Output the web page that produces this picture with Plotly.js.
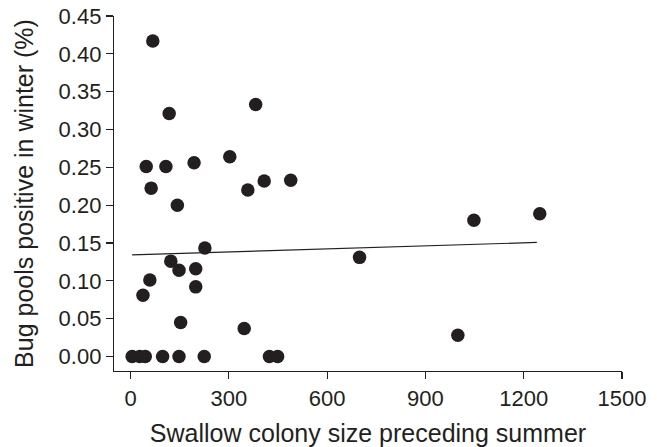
<!DOCTYPE html>
<html>
<head>
<meta charset="utf-8">
<script src="https://cdn.plot.ly/plotly-3.0.1.min.js"></script>
<style>html,body{margin:0;padding:0;background:#fff;}#chart{width:657px;height:447px;}</style>
</head>
<body>
<div id="chart"></div>
<script>
var colonySize = [68, 118, 382, 48, 108, 194, 303, 63, 358, 408, 489,
                  143, 227, 123, 148, 199, 199, 59, 38, 153, 347,
                  5, 28, 45, 98, 148, 225, 424, 449,
                  699, 1048, 1249, 999];
var bugPositive = [0.417, 0.321, 0.333, 0.251, 0.251, 0.256, 0.264, 0.2225, 0.220, 0.232, 0.233,
                   0.200, 0.1435, 0.126, 0.114, 0.116, 0.092, 0.101, 0.081, 0.045, 0.037,
                   0, 0, 0, 0, 0, 0, 0, 0,
                   0.131, 0.180, 0.1885, 0.028];
var trendX = [5, 1240];
var trendY = [0.1343, 0.1507];
var xTicks = [0, 300, 600, 900, 1200, 1500];
var yTicks = [0, 0.05, 0.10, 0.15, 0.20, 0.25, 0.30, 0.35, 0.40, 0.45];
var yTickText = yTicks.map(function(v){return v.toFixed(2);});

var ink = '#231f20';
var font = 'Liberation Sans, Arial, Helvetica, sans-serif';

var traces = [
  {x: colonySize, y: bugPositive, type: 'scatter', mode: 'markers',
   marker: {size: 13.5, color: ink}, hoverinfo: 'x+y'},
  {x: trendX, y: trendY, type: 'scatter', mode: 'lines',
   line: {color: ink, width: 1.2}, hoverinfo: 'skip'}
];

var layout = {
  width: 657, height: 447,
  margin: {l: 114, r: 35, t: 15.7, b: 76.3},
  paper_bgcolor: '#fff', plot_bgcolor: '#fff',
  showlegend: false,
  font: {family: font, color: ink, size: 22},
  xaxis: {
    range: [-50.4, 1500], tickvals: xTicks, ticktext: xTicks.map(String),
    showgrid: false, zeroline: false, showline: true, linecolor: ink, linewidth: 1.2,
    ticks: 'outside', ticklen: 7, tickwidth: 1.2, tickcolor: ink,
    tickfont: {size: 22, family: font, color: ink},
    title: {text: 'Swallow colony size preceding summer', font: {size: 25, family: font, color: ink}, standoff: 17}
  },
  yaxis: {
    range: [-0.0192, 0.45], tickvals: yTicks, ticktext: yTickText,
    showgrid: false, zeroline: false, showline: true, linecolor: ink, linewidth: 1.2,
    ticks: 'outside', ticklen: 7, tickwidth: 1.2, tickcolor: ink,
    tickfont: {size: 22, family: font, color: ink},
    title: {text: 'Bug pools positive in winter (%)', font: {size: 25, family: font, color: ink}, standoff: 17}
  }
};

Plotly.newPlot('chart', traces, layout, {displayModeBar: false, staticPlot: true});
</script>
</body>
</html>
